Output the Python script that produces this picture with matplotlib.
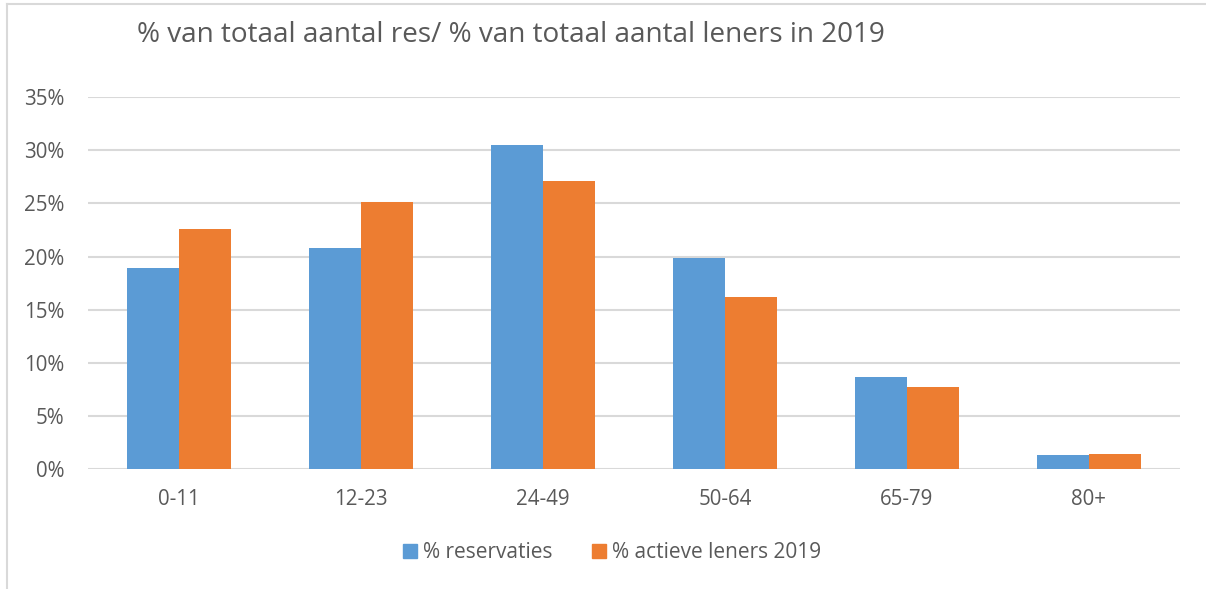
import matplotlib

matplotlib.use('agg')
import matplotlib.pyplot as plt
import numpy as np
from matplotlib.patches import Patch
from matplotlib.ticker import PercentFormatter

# data
categories = ['0-11', '12-23', '24-49', '50-64', '65-79', '80+']
reservaties = [18.9, 20.8, 30.5, 19.9, 8.7, 1.3]
actieve_leners = [22.6, 25.1, 27.1, 16.2, 7.7, 1.4]
series_names = ['% reservaties', '% actieve leners 2019']
title = '% van totaal aantal res/ % van totaal aantal leners in 2019'

BLUE = '#5B9BD5'
ORANGE = '#ED7D31'
GREY = '#595959'
GRID = '#D9D9D9'

plt.rcParams['font.family'] = ['Open Sans', 'DejaVu Sans']

fig = plt.figure(figsize=(12.06, 5.89), dpi=100)
ax = fig.add_axes([88 / 1206, 1 - 469.3 / 589, (1180 - 88) / 1206, (469.3 - 97) / 589])

x = np.arange(len(categories))
w = 1 / 3.5
ax.bar(x - w / 2, reservaties, w, color=BLUE, zorder=3)
ax.bar(x + w / 2, actieve_leners, w, color=ORANGE, zorder=3)

ax.set_xlim(-0.5, len(categories) - 0.5)
ax.set_ylim(0, 35)
ax.set_yticks(np.arange(0, 36, 5))
ax.yaxis.set_major_formatter(PercentFormatter(decimals=0))
ax.set_xticks(x)
ax.set_xticklabels(categories)
ax.tick_params(axis='both', length=0, labelsize=14.8, labelcolor=GREY)
ax.tick_params(axis='y', pad=17)
ax.tick_params(axis='x', pad=14)
ax.grid(axis='y', color=GRID, linewidth=1.5, zorder=0)
for s in ax.spines.values():
    s.set_visible(False)

fig.text(137 / 1206, 1 - 35 / 589, title, fontsize=20.1, color=GREY, ha='left', va='center')

handles = [Patch(color=BLUE), Patch(color=ORANGE)]
fig.legend(handles, series_names, loc='center', bbox_to_anchor=(612 / 1206, 1 - 553 / 589),
           ncol=2, frameon=False, fontsize=15, labelcolor=GREY,
           handlelength=0.65, handleheight=0.65, handletextpad=0.3, columnspacing=1.9)

# chart border (left and top only visible in the screenshot)
fig.add_artist(plt.Line2D([7 / 1206, 7 / 1206], [0, 1 - 4 / 589], color=GRID, linewidth=1.5))
fig.add_artist(plt.Line2D([7 / 1206, 1], [1 - 4 / 589, 1 - 4 / 589], color=GRID, linewidth=1.5))

fig.savefig('out.png', dpi=100)
